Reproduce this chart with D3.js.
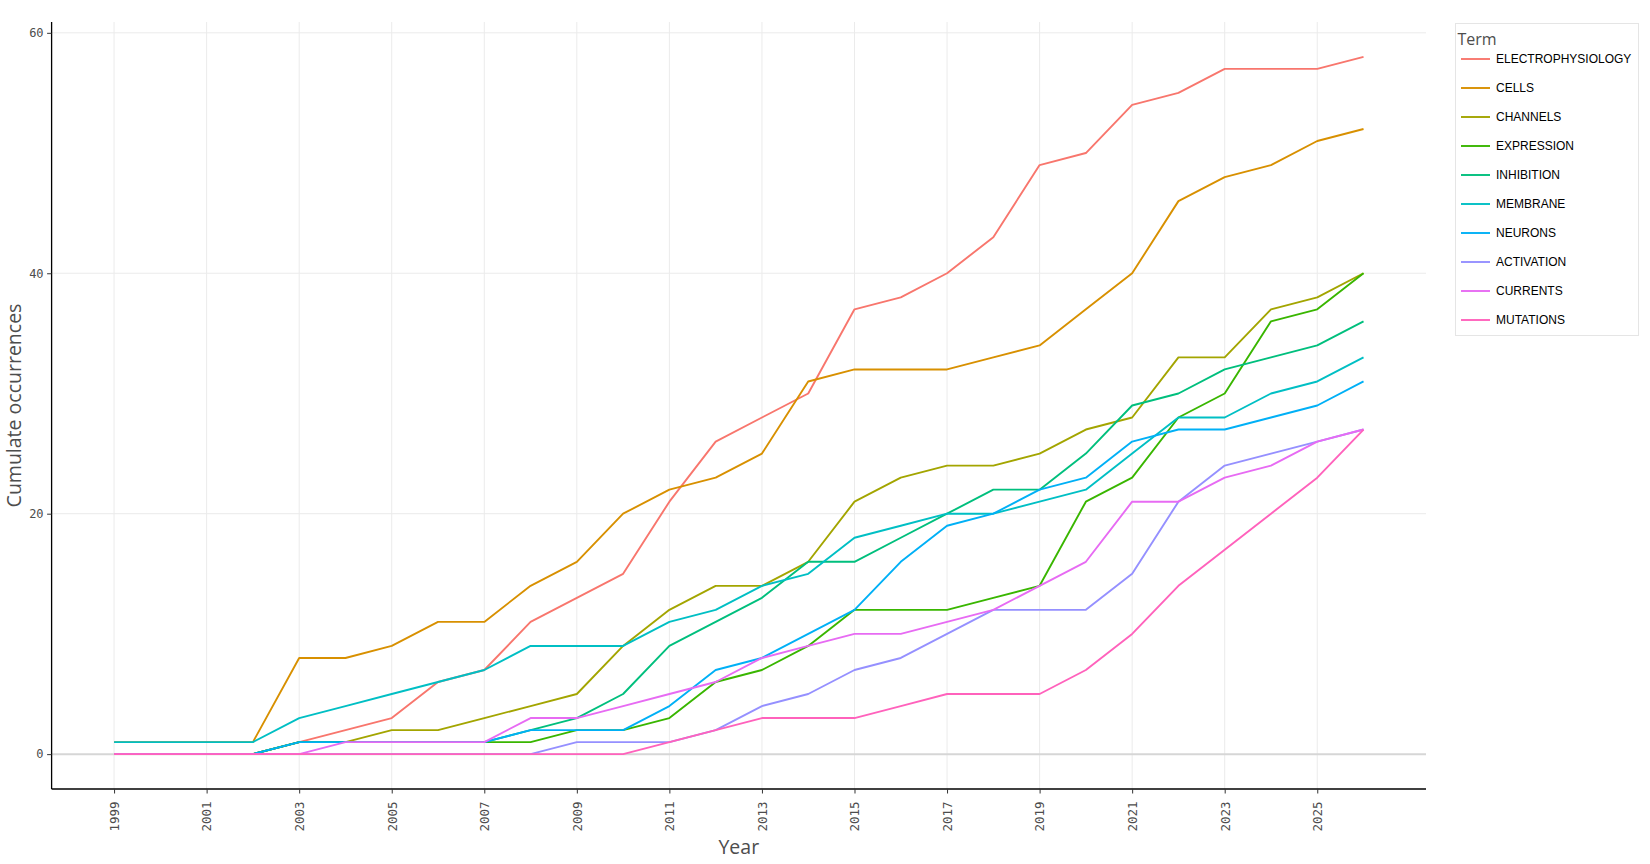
<!DOCTYPE html>
<html>
<head>
<meta charset="utf-8">
<script src="https://cdn.jsdelivr.net/npm/d3@7"></script>
<style>
  body { margin: 0; background: #ffffff; }
  svg { display: block; }
</style>
</head>
<body>
<svg width="1650" height="864"></svg>
<script>
// chart values
const years = d3.range(1999, 2027)
const xTicks = [1999, 2001, 2003, 2005, 2007, 2009, 2011, 2013, 2015, 2017, 2019, 2021, 2023, 2025]
const yTicks = [0, 20, 40, 60]

const terms = ["ELECTROPHYSIOLOGY", "CELLS", "CHANNELS", "EXPRESSION", "INHIBITION",
               "MEMBRANE", "NEURONS", "ACTIVATION", "CURRENTS", "MUTATIONS"]
const colours = ["#F8766D", "#D89000", "#A3A500", "#39B600", "#00BF7D",
                 "#00BFC4", "#00B0F6", "#9590FF", "#E76BF3", "#FF62BC"]

const electrophysiology = [0,0,0,0,1,2,3,6,7,11,13,15,21,26,28,30,37,38,40,43,49,50,54,55,57,57,57,58]
const cells = [1,1,1,1,8,8,9,11,11,14,16,20,22,23,25,31,32,32,32,33,34,37,40,46,48,49,51,52]
const channels = [0,0,0,0,1,1,2,2,3,4,5,9,12,14,14,16,21,23,24,24,25,27,28,33,33,37,38,40]
const expression = [0,0,0,0,1,1,1,1,1,1,2,2,3,6,7,9,12,12,12,13,14,21,23,28,30,36,37,40]
const inhibition = [0,0,0,0,1,1,1,1,1,2,3,5,9,11,13,16,16,18,20,22,22,25,29,30,32,33,34,36]
const membrane = [1,1,1,1,3,4,5,6,7,9,9,9,11,12,14,15,18,19,20,20,21,22,25,28,28,30,31,33]
const neurons = [0,0,0,0,1,1,1,1,1,2,2,2,4,7,8,10,12,16,19,20,22,23,26,27,27,28,29,31]
const activation = [0,0,0,0,0,0,0,0,0,0,1,1,1,2,4,5,7,8,10,12,12,12,15,21,24,25,26,27]
const currents = [0,0,0,0,0,1,1,1,1,3,3,4,5,6,8,9,10,10,11,12,14,16,21,21,23,24,26,27]
const mutations = [0,0,0,0,0,0,0,0,0,0,0,0,1,2,3,3,3,4,5,5,5,7,10,14,17,20,23,27]

const values = [electrophysiology, cells, channels, expression, inhibition,
                membrane, neurons, activation, currents, mutations]

const series = terms.map((t, i) => ({
    term: t,
    clr: colours[i],
    points: years.map((yr, j) => ({ year: yr, count: values[i][j] }))
}))

// layout
const plotLeft = 51.6, plotRight = 1426, plotTop = 22, plotBottom = 789
const svg = d3.select("svg")

const x = d3.scaleLinear().domain([1999 - 1.35, 2026 + 1.35]).range([plotLeft, plotRight])
const y = d3.scaleLinear().domain([-2.9, 60.9]).range([plotBottom, plotTop])

// grid
svg.append("g")
    .selectAll("line")
    .data(xTicks)
    .join("line")
    .attr("x1", d => x(d)).attr("x2", d => x(d))
    .attr("y1", plotTop).attr("y2", plotBottom)
    .attr("stroke", "#ebebeb").attr("stroke-width", 1)

svg.append("g")
    .selectAll("line")
    .data(yTicks.filter(d => d !== 0))
    .join("line")
    .attr("x1", plotLeft).attr("x2", plotRight)
    .attr("y1", d => y(d)).attr("y2", d => y(d))
    .attr("stroke", "#ebebeb").attr("stroke-width", 1)

// zero line
svg.append("line")
    .attr("x1", plotLeft).attr("x2", plotRight)
    .attr("y1", y(0)).attr("y2", y(0))
    .attr("stroke", "#d6d6d6").attr("stroke-width", 2)

// lines
const line = d3.line().x(d => x(d.year)).y(d => y(d.count))
svg.append("g")
    .selectAll("path")
    .data(series)
    .join("path")
    .attr("d", d => line(d.points))
    .attr("fill", "none")
    .attr("stroke", d => d.clr)
    .attr("stroke-width", 1.9)
    .attr("stroke-linejoin", "round")

// axes
const tickFont = "'DejaVu Sans Mono', monospace"

const yAxis = svg.append("g")
    .attr("transform", `translate(${plotLeft},0)`)
    .call(d3.axisLeft(y).tickValues(yTicks).tickSize(4.5).tickPadding(3.5))
yAxis.select(".domain").attr("d", `M0,${plotTop}V${plotBottom}`).attr("stroke", "#000").attr("stroke-width", 1.3)
yAxis.selectAll(".tick line").attr("stroke", "#333")
yAxis.selectAll(".tick text")
    .attr("fill", "#4d4d4d")
    .style("font-family", tickFont)
    .style("font-size", "12px")

const xAxis = svg.append("g")
    .attr("transform", `translate(0,${plotBottom})`)
    .call(d3.axisBottom(x).tickValues(xTicks).tickFormat(d3.format("d")).tickSize(4.5))
xAxis.select(".domain").attr("d", `M${plotLeft},0H${plotRight}`).attr("stroke", "#000").attr("stroke-width", 1.3)
xAxis.selectAll(".tick line").attr("stroke", "#333")
xAxis.selectAll(".tick text")
    .attr("fill", "#4d4d4d")
    .style("font-family", tickFont)
    .style("font-size", "12.5px")
    .attr("text-anchor", "end")
    .attr("transform", "rotate(-90)")
    .attr("x", -12.5)
    .attr("y", 0)
    .attr("dy", "0.35em")

// axis titles
svg.append("text")
    .attr("x", (plotLeft + plotRight) / 2)
    .attr("y", 854)
    .attr("text-anchor", "middle")
    .attr("fill", "#4d4d4d")
    .style("font-family", "'Open Sans', sans-serif")
    .style("font-size", "19.5px")
    .text("Year")

svg.append("text")
    .attr("transform", `translate(21,${(plotTop + plotBottom) / 2}) rotate(-90)`)
    .attr("text-anchor", "middle")
    .attr("fill", "#4d4d4d")
    .style("font-family", "'Open Sans', sans-serif")
    .style("font-size", "19.5px")
    .text("Cumulate occurrences")

// legend
const legend = svg.append("g")
legend.append("rect")
    .attr("x", 1455.5).attr("y", 23.5)
    .attr("width", 183).attr("height", 312)
    .attr("fill", "#fff")
    .attr("stroke", "#e5e5e5").attr("stroke-width", 1)

legend.append("text")
    .attr("x", 1457.5).attr("y", 45)
    .attr("fill", "#4d4d4d")
    .style("font-family", "'Open Sans', sans-serif")
    .style("font-size", "16px")
    .text("Term")

const rows = legend.selectAll("g.row")
    .data(series)
    .join("g")
    .attr("class", "row")
    .attr("transform", (d, i) => `translate(0,${59 + i * 29})`)

rows.append("line")
    .attr("x1", 1461).attr("x2", 1490)
    .attr("y1", 0).attr("y2", 0)
    .attr("stroke", d => d.clr)
    .attr("stroke-width", 1.9)

rows.append("text")
    .attr("x", 1496).attr("y", 0)
    .attr("dy", "0.36em")
    .attr("fill", "#000")
    .style("font-family", "'Liberation Sans', Arial, sans-serif")
    .style("font-size", "12px")
    .text(d => d.term)
</script>
</body>
</html>
